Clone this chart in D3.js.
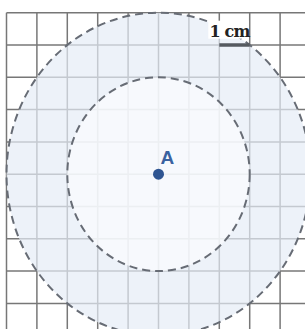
<!DOCTYPE html>
<html>
<head>
<meta charset="utf-8">
<script src="https://cdn.jsdelivr.net/npm/d3@7"></script>
<style>
  html, body { margin: 0; padding: 0; background: #fff; }
  svg { display: block; }
</style>
</head>
<body>
<svg id="chart" width="305" height="329"></svg>
<script>
// grid positions in cm
const gridX = [0, 1, 2, 3, 4, 5, 6, 7, 8, 9];
const gridY = [0, 1, 2, 3, 4, 5, 6, 7, 8, 9];
// circles around point A (radius in cm)
const center = { x: 5, y: 5, label: "A" };
const radii = [5, 3];
const scaleBar = { from: 7, to: 8, row: 1, label: "1 cm" };

const width = 305, height = 329;
const svg = d3.select("#chart");

// 1 cm is ~30.4px across and ~32.3px down in the picture
const x = d3.scaleLinear().domain([0, 1]).range([6.5, 36.9]);
const y = d3.scaleLinear().domain([0, 1]).range([12.7, 45]);

// grid
const grid = svg.append("g").attr("stroke", "#777").attr("stroke-width", 1.5);
grid.selectAll(".v")
    .data(gridX)
    .enter().append("line")
    .attr("x1", d => x(d)).attr("x2", d => x(d))
    .attr("y1", y(0)).attr("y2", height);
grid.selectAll(".h")
    .data(gridY)
    .enter().append("line")
    .attr("x1", x(0)).attr("x2", width)
    .attr("y1", d => y(d)).attr("y2", d => y(d));

// filled discs (outer first)
const fills = ["#e6edf6", "#fafbfe"];
const opac = [0.7, 0.75];
svg.selectAll(".disc")
    .data(radii)
    .enter().append("ellipse")
    .attr("cx", x(center.x)).attr("cy", y(center.y))
    .attr("rx", d => x(d) - x(0))
    .attr("ry", d => y(d) - y(0))
    .attr("fill", (d, i) => fills[i])
    .attr("fill-opacity", (d, i) => opac[i]);

// dashed outlines
svg.selectAll(".ring")
    .data(radii)
    .enter().append("ellipse")
    .attr("cx", x(center.x)).attr("cy", y(center.y))
    .attr("rx", d => x(d) - x(0))
    .attr("ry", d => y(d) - y(0))
    .attr("fill", "none")
    .attr("stroke", "#676c75")
    .attr("stroke-width", 2)
    .attr("stroke-dasharray", "8 5");

// point A
svg.append("circle")
    .attr("cx", x(center.x)).attr("cy", y(center.y))
    .attr("r", 5.5)
    .attr("fill", "#2f5592");
svg.append("text")
    .attr("x", x(center.x) + 2).attr("y", y(center.y) - 10)
    .attr("font-family", "Liberation Sans, Arial, sans-serif")
    .attr("font-weight", "bold")
    .attr("font-size", 19)
    .attr("fill", "#3a62a0")
    .text(center.label);

// scale bar "1 cm"
svg.append("rect")
    .attr("x", x(scaleBar.from) - 11).attr("y", y(0) + 8)
    .attr("width", x(scaleBar.to) - x(scaleBar.from) + 10).attr("height", 18)
    .attr("fill", "#fff");
svg.append("line")
    .attr("x1", x(scaleBar.from)).attr("x2", x(scaleBar.to))
    .attr("y1", y(scaleBar.row)).attr("y2", y(scaleBar.row))
    .attr("stroke", "#555a60")
    .attr("stroke-width", 3.5);
svg.append("text")
    .attr("x", x(scaleBar.to)).attr("y", y(scaleBar.row) - 8)
    .attr("text-anchor", "end")
    .attr("font-family", "DejaVu Serif, serif")
    .attr("font-weight", "bold")
    .attr("font-size", 16)
    .attr("letter-spacing", -0.8)
    .attr("fill", "#222")
    .text(scaleBar.label);
</script>
</body>
</html>
